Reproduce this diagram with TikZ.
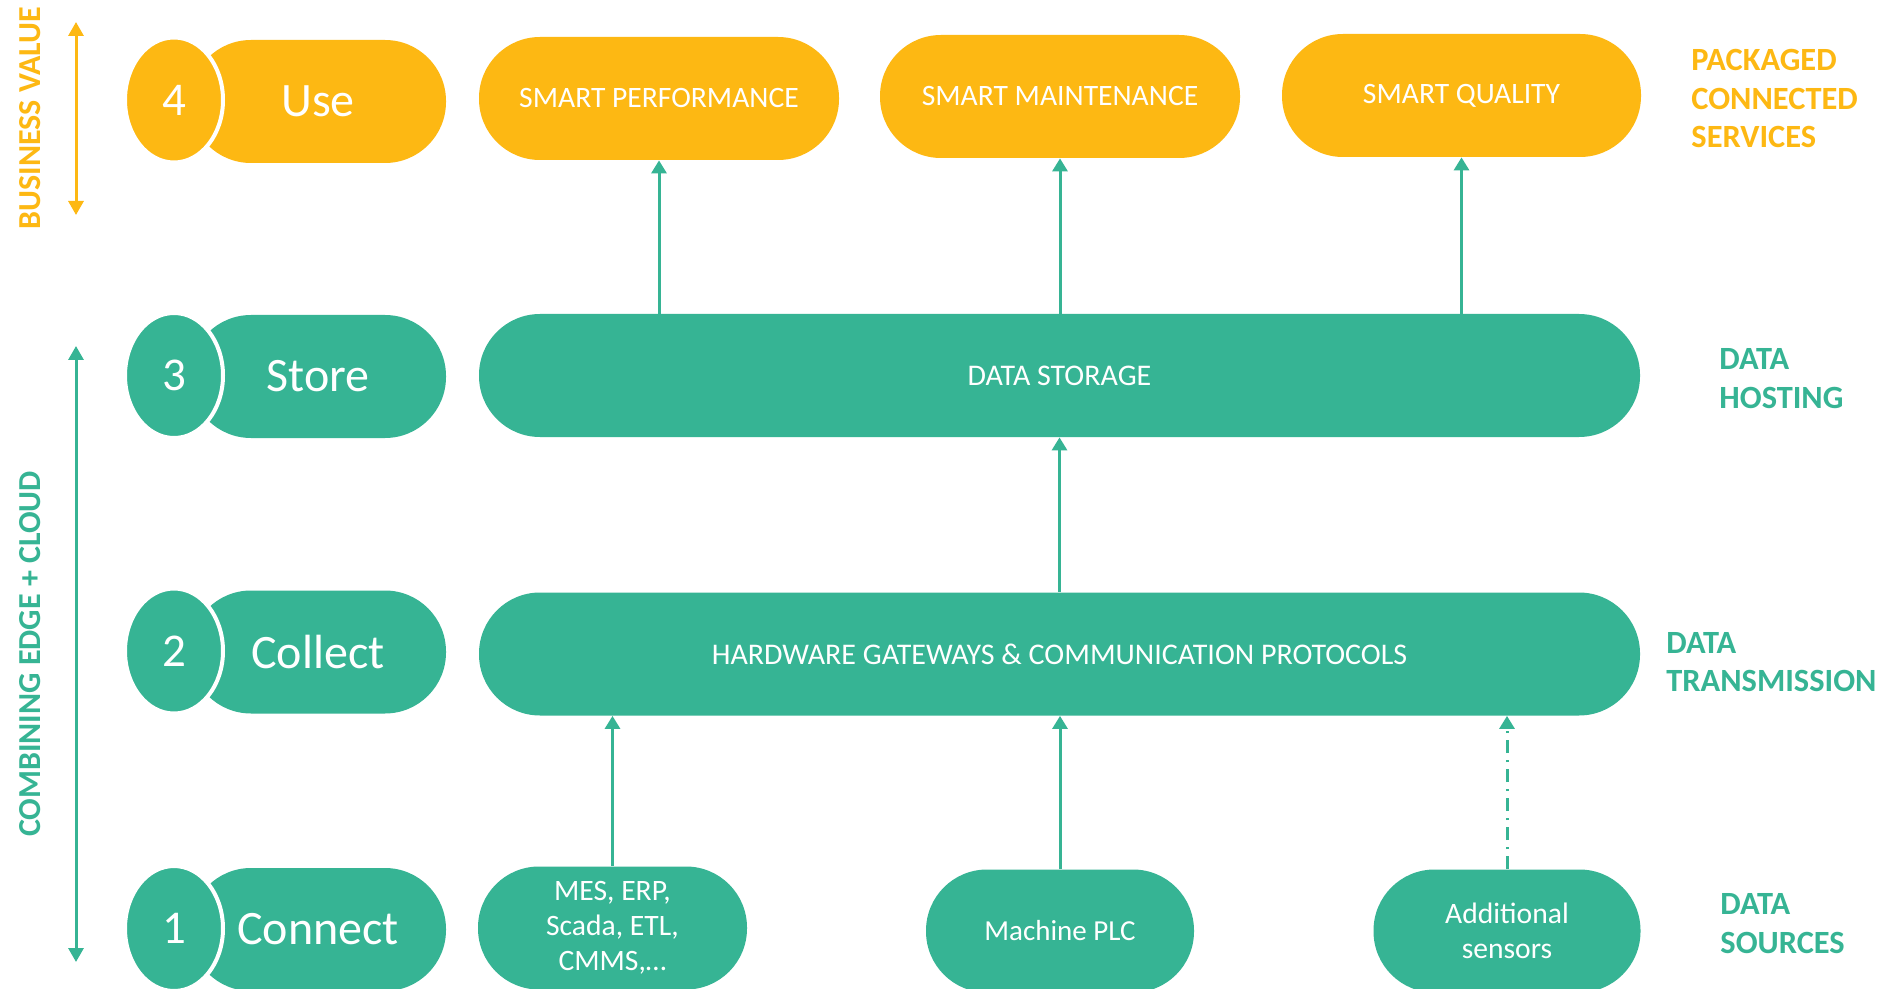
\documentclass[tikz,border=0pt]{standalone}
\usepackage{fontspec}
\setmainfont{Carlito}
\usetikzlibrary{arrows.meta,shapes.geometric}
\definecolor{cyel}{RGB}{253,184,19}
\definecolor{cgrn}{RGB}{54,180,148}
\begin{document}
\begin{tikzpicture}[x=0.5pt,y=-0.5pt,
  pill/.style={rectangle, rounded corners=30.5pt, fill=#1, text=white, inner sep=0pt, minimum height=61.5pt, align=center},
  stagebox/.style={pill=#1, minimum width=128pt, font=\fontsize{24}{28}\selectfont},
  numell/.style={ellipse, fill=#1, draw=white, line width=2pt, minimum width=49pt, minimum height=62.5pt, inner sep=0pt, text=white, font=\fontsize{23.5}{27}\selectfont},
  midbox/.style={pill=#1, font=\fontsize{15}{18}\selectfont},
  srcbox/.style={pill=cgrn, font=\fontsize{14.8}{17.5}\selectfont},
  sidelabel/.style={text=#1, font=\bfseries\fontsize{16.2}{19.25}\selectfont, align=left, anchor=west, inner sep=0pt},
  vlabel/.style={text=#1, font=\bfseries\fontsize{16}{19}\selectfont, rotate=90, inner sep=0pt},
  arr/.style={draw=cgrn, line width=1.5pt, -{Triangle[width=7.5pt,length=6.5pt]}},
  darr/.style={draw=#1, line width=1.5pt, {Triangle[width=7.5pt,length=7pt]}-{Triangle[width=7.5pt,length=7pt]}}
]
\useasboundingbox (0,0) rectangle (1888,989);
\fill[white] (0,0) rectangle (1888,989);

% stage column
\node[stagebox=cyel] (use) at (318,101.5) {Use};
\node[numell=cyel] (n4) at (174,100) {4};
\node[stagebox=cgrn] (store) at (318,376.5) {Store};
\node[numell=cgrn] (n3) at (174,375.5) {3};
\node[stagebox=cgrn] (collect) at (318,652) {Collect};
\node[numell=cgrn] (n2) at (174,651) {2};
\node[stagebox=cgrn] (connect) at (318,929.5) {Connect};
\node[numell=cgrn] (n1) at (174,928.5) {1};

% services
\node[midbox=cyel, minimum width=180pt, font=\fontsize{14.8}{18}\selectfont] (perf) at (659,98.5) {SMART PERFORMANCE};
\node[midbox=cyel, minimum width=180pt, font=\fontsize{14.8}{18}\selectfont] (maint) at (1060,96.5) {SMART MAINTENANCE};
\node[midbox=cyel, minimum width=179.5pt, font=\fontsize{14.8}{18}\selectfont] (qual) at (1461.5,95.5) {SMART QUALITY};

% storage / gateways
\node[midbox=cgrn, minimum width=580.5pt] (storage) at (1059.5,375.5) {DATA STORAGE};
\node[midbox=cgrn, minimum width=580.5pt] (gate) at (1059.5,654) {HARDWARE GATEWAYS \& COMMUNICATION PROTOCOLS};

% sources
\node[srcbox, minimum width=134.5pt] (mes) at (612.5,928) {MES, ERP,\\Scada, ETL,\\CMMS,\dots};
\node[srcbox, minimum width=134pt, font=\fontsize{14.5}{18}\selectfont] (plc) at (1060,931) {Machine PLC};
\node[srcbox, minimum width=133.5pt] (sens) at (1507,931) {Additional\\sensors};

% connectors
\draw[arr] (perf.south |- storage.north) -- (perf.south);
\draw[arr] (maint.south |- storage.north) -- (maint.south);
\draw[arr] (qual.south |- storage.north) -- (qual.south);
\draw[arr] (gate.north) -- (storage.south);
\draw[arr] (mes.north) -- (mes.north |- gate.south);
\draw[arr] (plc.north) -- (plc.north |- gate.south);
\draw[arr, dash pattern=on 6.5pt off 3.5pt on 1pt off 3.5pt] (sens.north) -- (sens.north |- gate.south);

% side arrows
\coordinate (bvtop) at (76,22);
\coordinate (bvbot) at (76,215);
\coordinate (cetop) at (76,346);
\coordinate (cebot) at (76,962);
\draw[darr=cyel] (bvtop) -- (bvbot);
\draw[darr=cgrn] (cetop) -- (cebot);
\node[vlabel=cyel] (bv) at (30,118) {BUSINESS VALUE};
\node[vlabel=cgrn] (ce) at (30,654) {COMBINING EDGE + CLOUD};

% right labels
\node[sidelabel=cyel] (pcs) at (1691,98.5) {PACKAGED\\CONNECTED\\SERVICES};
\node[sidelabel=cgrn] (dh) at (1719,378.5) {DATA\\HOSTING};
\node[sidelabel=cgrn] (dt) at (1666,662) {DATA\\TRANSMISSION};
\node[sidelabel=cgrn] (ds) at (1720,923.5) {DATA\\SOURCES};
\end{tikzpicture}
\end{document}
